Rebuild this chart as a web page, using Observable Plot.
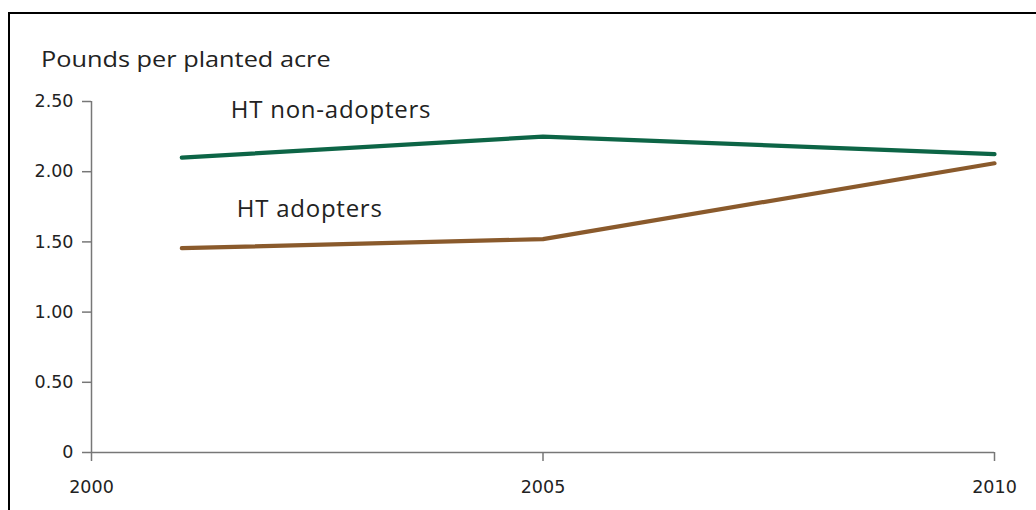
<!DOCTYPE html>
<html>
<head>
<meta charset="utf-8">
<script src="https://cdn.jsdelivr.net/npm/d3@7"></script>
<script src="https://cdn.jsdelivr.net/npm/@observablehq/plot@0.6"></script>
<style>
  html, body { margin: 0; padding: 0; background: #fff; }
  #wrap { position: relative; width: 1036px; height: 510px; overflow: hidden; }
  #frame { position: absolute; left: 8px; top: 12px; width: 1100px; height: 600px; border: 2px solid #000; box-sizing: border-box; }
  #title { position: absolute; left: 41px; top: 43px; font-family: "Open Sans", sans-serif; font-size: 22px; line-height: 30px; color: #222; white-space: nowrap; transform: scaleX(1.15); transform-origin: 0 0; }
  #chart { position: absolute; left: 0; top: 0; }
  #chart g[aria-label="y-axis tick label"], #chart g[aria-label="x-axis tick label"] { font-family: "DejaVu Sans", sans-serif; font-size: 17.5px; }
  #chart g[aria-label="text"] text { letter-spacing: 0.75px; }
</style>
</head>
<body>
<div id="wrap">
  <div id="frame"></div>
  <div id="title">Pounds per planted acre</div>
  <div id="chart"></div>
</div>
<script>
const years = [2001, 2005, 2010];
const seriesNames = ["HT non-adopters", "HT adopters"];
const nonAdopters = [2.10, 2.25, 2.125];
const adopters = [1.455, 1.52, 2.06];
const seriesColors = ["#0d6546", "#8a5a2c"];
const yTicks = [0, 0.5, 1.0, 1.5, 2.0, 2.5];
const xTicks = [2000, 2005, 2010];

const data = [];
[nonAdopters, adopters].forEach((vals, i) => {
  vals.forEach((v, j) => data.push({series: seriesNames[i], year: years[j], value: v}));
});
const firstOf = s => data.filter(d => d.series === s).slice(0, 1);

const axisColor = "#777";
const labelFont = "'Open Sans', sans-serif";
const plot = Plot.plot({
  width: 1036,
  height: 510,
  marginLeft: 91,
  marginRight: 42,
  marginTop: 101,
  marginBottom: 58,
  style: {background: "transparent", fontFamily: "'DejaVu Sans', sans-serif", fontSize: "17.5px", color: "#222", overflow: "visible"},
  x: {domain: [2000, 2010]},
  y: {domain: [0, 2.5]},
  color: {domain: seriesNames, range: seriesColors},
  marks: [
    Plot.axisY({ticks: yTicks, tickSize: 9, tickPadding: 9, stroke: axisColor, strokeWidth: 1.5, fill: "#222",
      tickFormat: d => d === 0 ? "0" : d.toFixed(2), label: null}),
    Plot.axisX({ticks: xTicks, tickSize: 9, tickPadding: 19, stroke: axisColor, strokeWidth: 1.5, fill: "#222",
      tickFormat: d => String(d), label: null}),
    Plot.ruleX([2000], {y1: 0, y2: 2.5, stroke: axisColor, strokeWidth: 1.5}),
    Plot.ruleY([0], {x1: 2000, x2: 2010, stroke: axisColor, strokeWidth: 1.5}),
    Plot.line(data, {x: "year", y: "value", z: "series", stroke: "series", strokeWidth: 4.2, strokeLinecap: "round", strokeLinejoin: "round"}),
    Plot.text(firstOf(seriesNames[0]), {x: "year", y: "value", text: "series", textAnchor: "start", lineAnchor: "middle",
      dx: 49, dy: -47, fontFamily: labelFont, fontSize: 24, fill: "#222"}),
    Plot.text(firstOf(seriesNames[1]), {x: "year", y: "value", text: "series", textAnchor: "start", lineAnchor: "middle",
      dx: 55, dy: -38.5, fontFamily: labelFont, fontSize: 24, fill: "#222"})
  ]
});
document.getElementById("chart").appendChild(plot);
</script>
</body>
</html>
